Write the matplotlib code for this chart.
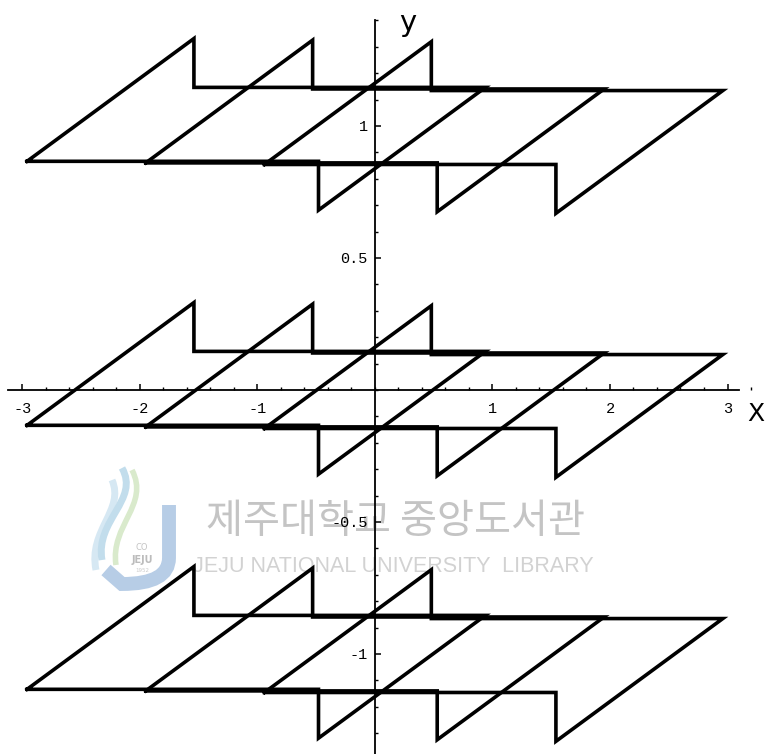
import matplotlib
matplotlib.use('Agg')
import matplotlib.pyplot as plt
from matplotlib.ticker import MultipleLocator
from matplotlib.path import Path
from matplotlib.patches import PathPatch

plt.rcParams['axes.unicode_minus'] = False

# one hysteresis loop centred on the origin (corner points, closed)
loop_x = [-1.95, -0.53, -0.53, 1.95, 0.53, 0.53, -1.95]
loop_y = [-0.14, 0.325, 0.14, 0.14, -0.325, -0.14, -0.14]

# three loops per row, moved along x; the rows sit at y = 1, 0, -1
loop_shift_x = [-1.01, 0.0, 1.01]
loop_shift_y = [0.006, 0.0, -0.006]
row_offset = [1.0, 0.0, -1.0]

x_ticks = [-3, -2, -1, 1, 2, 3]
x_labels = ['-3', '-2', '-1', '1', '2', '3']
y_ticks = [-1, -0.5, 0.5, 1]
y_labels = ['-1', '-0.5', '0.5', '1']

fig = plt.figure(figsize=(7.67, 7.54), dpi=100)

# library stamp behind the plot, in pixel units
bg = fig.add_axes([0, 0, 1, 1])
bg.set_xlim(0, 767)
bg.set_ylim(754, 0)
bg.axis('off')

swoosh_a = Path([(122, 468), (140, 500), (95, 520), (102, 560)],
                [Path.MOVETO, Path.CURVE4, Path.CURVE4, Path.CURVE4])
swoosh_b = Path([(132, 470), (150, 505), (110, 525), (116, 565)],
                [Path.MOVETO, Path.CURVE4, Path.CURVE4, Path.CURVE4])
swoosh_c = Path([(112, 480), (125, 510), (88, 530), (96, 570)],
                [Path.MOVETO, Path.CURVE4, Path.CURVE4, Path.CURVE4])
j_shape = Path([(169, 505), (169, 558), (169, 584), (122, 584), (106, 570)],
               [Path.MOVETO, Path.LINETO, Path.CURVE3, Path.CURVE3, Path.LINETO])
bg.add_patch(PathPatch(swoosh_c, fill=False, ec='#d6e8f3', lw=5))
bg.add_patch(PathPatch(swoosh_a, fill=False, ec='#c2ddec', lw=5))
bg.add_patch(PathPatch(swoosh_b, fill=False, ec='#d9eacc', lw=4))
bg.add_patch(PathPatch(j_shape, fill=False, ec='#b7cde6', lw=10, capstyle='butt'))
bg.text(142, 548, 'CO', fontsize=6, color='#c4c4c4', ha='center', va='center')
bg.text(142, 560, 'JEJU', fontsize=7, color='#bcbcbc', ha='center', va='center',
        fontweight='bold')
bg.text(142, 571, '1952', fontsize=4, color='#cccccc', ha='center', va='center')

bg.text(395, 521, '제주대학교 중앙도서관', fontsize=29, color='#c4c4c4',
        ha='center', va='center', family=['Noto Sans CJK KR', 'DejaVu Sans'])
bg.text(393, 567, 'JEJU NATIONAL UNIVERSITY  LIBRARY', fontsize=15.5,
        color='#d2d2d2', ha='center', va='center',
        family=['Liberation Sans Narrow', 'Liberation Sans', 'DejaVu Sans'])

# the plot itself, axes crossing at the origin
ax = fig.add_axes([0, 0, 1, 1])
ax.patch.set_alpha(0)
ax.set_xlim(-3.19, 3.336)
ax.set_ylim(-1.379, 1.477)

for side in ['top', 'right']:
    ax.spines[side].set_visible(False)
ax.spines['left'].set_position(('data', 0))
ax.spines['bottom'].set_position(('data', 0))
ax.spines['left'].set_bounds(-1.38, 1.40)
ax.spines['bottom'].set_bounds(-3.12, 3.10)
ax.spines['left'].set_linewidth(1.3)
ax.spines['bottom'].set_linewidth(1.3)

ax.set_xticks(x_ticks, x_labels)
ax.set_yticks(y_ticks, y_labels)
ax.xaxis.set_minor_locator(MultipleLocator(0.2))
ax.yaxis.set_minor_locator(MultipleLocator(0.1))
ax.tick_params(which='major', direction='in', length=4, width=1.1)
ax.tick_params(which='minor', direction='in', length=2.5, width=1.0)
ax.tick_params(axis='x', which='major', pad=8.5)
ax.tick_params(axis='y', which='major', pad=5)
for lab in ax.get_xticklabels() + ax.get_yticklabels():
    lab.set_family('Liberation Mono')
    lab.set_fontsize(11)

for row in row_offset:
    for sx, sy in zip(loop_shift_x, loop_shift_y):
        ax.plot([x + sx for x in loop_x], [y + row + sy for y in loop_y],
                color='black', lw=2.6, solid_joinstyle='miter', zorder=3)

ax.text(0.28, 1.39, 'y', fontsize=21, ha='center', va='center')
ax.text(3.24, -0.09, 'X', fontsize=18, ha='center', va='center')

fig.savefig('out.png', dpi=100)
